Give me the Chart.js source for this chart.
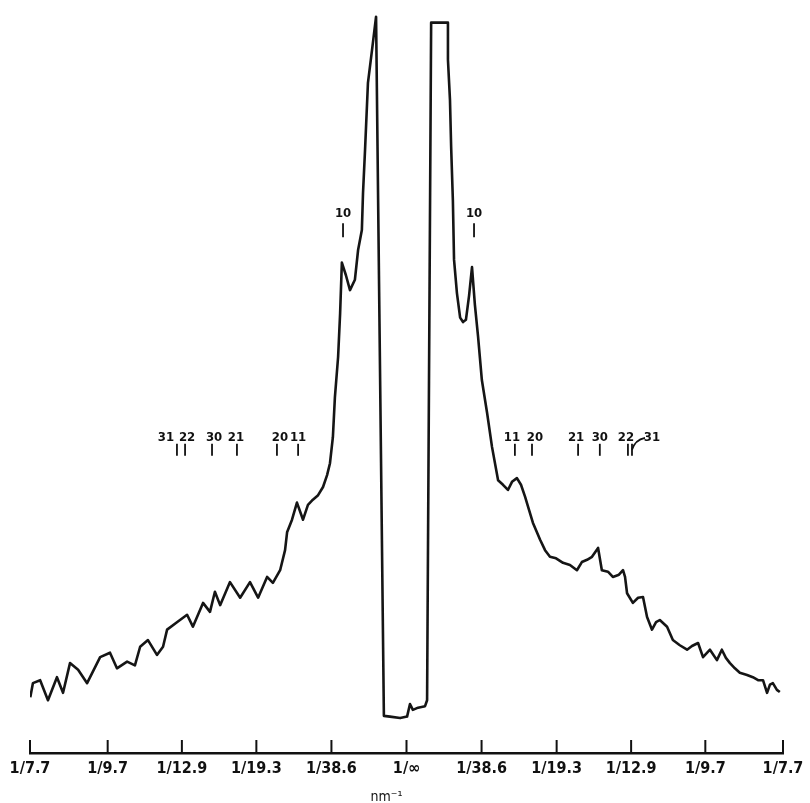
<!DOCTYPE html>
<html>
<head>
<meta charset="utf-8">
<script src="https://cdn.jsdelivr.net/npm/chart.js@4/dist/chart.umd.min.js"></script>
<style>
  html, body { margin: 0; padding: 0; background: #fff; }
  #wrap { width: 810px; height: 803px; position: relative; }
</style>
</head>
<body>
<div id="wrap"><canvas id="chart"></canvas></div>
<script>
// scattering vector q (nm^-1) and intensity (arbitrary units)
const leftQ = [-0.1298,-0.1289,-0.1264,-0.1237,-0.1206,-0.1185,-0.1161,-0.1133,-0.1102,-0.1057,
  -0.1023,-0.0999,-0.0964,-0.0937,-0.0919,-0.0892,-0.0861,-0.0840,-0.0826,-0.0792,
  -0.0757,-0.0737,-0.0702,-0.0678,-0.0661,-0.0643,-0.0609,-0.0574,-0.0540,-0.0512,
  -0.0481,-0.0461,-0.0436,-0.0419,-0.0412,-0.0395,-0.0378,-0.0357,-0.0340,-0.0323,
  -0.0305,-0.0288,-0.0274,-0.0264,-0.0254,-0.0247,-0.0236,-0.0229,-0.0223,-0.0209,
  -0.0195,-0.0178,-0.0167,-0.0154,-0.0150,-0.0143,-0.0133,-0.0119,-0.0105];
const leftI = [7.5,9.4,9.8,7.1,10.2,8.1,12.1,11.2,9.4,12.9,
  13.5,11.4,12.3,11.8,14.3,15.2,13.2,14.3,16.6,17.6,
  18.6,17.0,20.2,19.0,21.7,19.9,23.0,20.9,23.0,20.9,
  23.7,22.9,24.6,27.3,29.7,31.4,33.7,31.4,33.4,34.1,
  34.7,35.8,37.4,39.0,42.5,47.9,53.3,59.2,66.0,64.3,
  62.3,63.7,67.7,70.4,75.4,81.2,90.2,94.6,99.1];

// beam stop shadow in the middle
const stopQ = [-0.0078,-0.0057,-0.0022,0.0002,0.0012,0.0022,0.0040,0.0064,0.0071,0.0085,0.0143];
const stopI = [5.0,4.9,4.7,4.9,6.6,5.8,6.1,6.3,7.1,98.3,98.3];

const rightQ = [0.0143,0.0150,0.0154,0.0160,0.0164,0.0174,0.0185,0.0195,0.0205,0.0216,
  0.0226,0.0236,0.0247,0.0260,0.0278,0.0295,0.0316,0.0333,0.0350,0.0364,
  0.0381,0.0395,0.0409,0.0423,0.0436,0.0461,0.0478,0.0495,0.0516,0.0540,
  0.0564,0.0588,0.0605,0.0623,0.0640,0.0661,0.0674,0.0695,0.0712,0.0733,
  0.0747,0.0754,0.0761,0.0781,0.0799,0.0816,0.0830,0.0847,0.0861,0.0874,
  0.0899,0.0919,0.0943,0.0968,0.0985,0.1006,0.1023,0.1047,0.1071,0.1088,
  0.1102,0.1116,0.1133,0.1150,0.1175,0.1195,0.1213,0.1230,0.1244,0.1254,
  0.1264,0.1278,0.1288];
const rightI = [93.3,87.9,81.6,74.4,66.4,61.9,58.6,58.0,58.3,61.6,
  65.4,60.3,56.0,50.2,45.8,41.2,36.7,36.1,35.4,36.5,
  37.0,36.1,34.5,32.7,31.0,28.7,27.3,26.4,26.2,25.6,
  25.3,24.6,25.7,26.0,26.4,27.6,24.6,24.4,23.7,24.0,
  24.6,23.7,21.5,20.2,20.9,21.0,18.3,16.6,17.6,17.9,
  17.0,15.2,14.5,13.9,14.4,14.8,12.9,13.9,12.5,13.9,
  12.8,12.1,11.4,10.8,10.5,10.2,9.8,9.8,8.1,9.2,
  9.4,8.5,8.2];

// axis ticks
const tickValues = [-0.1299,-0.1031,-0.0775,-0.0518,-0.0259,0,0.0259,0.0518,0.0775,0.1031,0.1299];
const tickLabels = ['1/7.7','1/9.7','1/12.9','1/19.3','1/38.6','1/\u221e','1/38.6','1/19.3','1/12.9','1/9.7','1/7.7'];

// reflection markers
const peak10Q = [-0.0219, 0.0233];
const leftHk = ['31','22','30','21','20','11'];
const leftHkQ = [-0.0792,-0.0764,-0.0671,-0.0585,-0.0447,-0.0374];
const rightHk = ['11','20','21','30','22','31'];
const rightHkQ = [0.0374,0.0433,0.0592,0.0667,0.0764,0.0778];

const toPoints = (qs, is) => qs.map((q, i) => ({ x: q, y: is[i] }));
const trace = [].concat(toPoints(leftQ, leftI), toPoints(stopQ, stopI), toPoints(rightQ, rightI));

const FONT = '"DejaVu Sans Condensed", "DejaVu Sans", sans-serif';

// tick marks stand up from the axis line
const upTicks = {
  id: 'upTicks',
  afterDraw(chart) {
    const x = chart.scales.x;
    const yb = chart.chartArea.bottom;
    const ctx = chart.ctx;
    ctx.save();
    ctx.strokeStyle = '#111';
    ctx.lineWidth = 2;
    x.ticks.forEach(t => {
      const px = x.getPixelForValue(t.value);
      ctx.beginPath();
      ctx.moveTo(px, yb);
      ctx.lineTo(px, yb - 13);
      ctx.stroke();
    });
    ctx.font = '14px ' + FONT;
    ctx.fillStyle = '#111';
    ctx.textAlign = 'center';
    ctx.fillText('nm\u207b\u00b9', x.getPixelForValue(0) - 20, 801);
    ctx.restore();
  }
};

const markers = {
  id: 'markers',
  afterDatasetsDraw(chart) {
    const { ctx, scales: { x, y } } = chart;
    ctx.save();
    ctx.strokeStyle = '#111';
    ctx.fillStyle = '#111';
    ctx.lineWidth = 1.8;
    ctx.font = 'bold 13px ' + FONT;
    ctx.textAlign = 'center';
    ctx.textBaseline = 'alphabetic';

    const mark = (q, level, len, text, dx, gap) => {
      const px = x.getPixelForValue(q);
      const py = y.getPixelForValue(level);
      ctx.beginPath();
      ctx.moveTo(px, py);
      ctx.lineTo(px, py - len);
      ctx.stroke();
      ctx.fillText(text, px + dx, py - len - gap);
      return [px, py];
    };

    peak10Q.forEach(q => mark(q, 69.4, 14, '10', 0, 6));

    const leftDx = [-11, 2, 2, -1, 3, 0];
    leftHk.forEach((hk, i) => mark(leftHkQ[i], 40.0, 12, hk, leftDx[i], 3));

    const rightDx = [-3, 3, -2, 0, -2, 20];
    rightHk.forEach((hk, i) => {
      const [px, py] = mark(rightHkQ[i], 40.0, 12, hk, rightDx[i], 3);
      if (hk === '31') {
        ctx.beginPath();
        ctx.moveTo(px, py - 6);
        ctx.quadraticCurveTo(px + 3, py - 16, px + 13, py - 18);
        ctx.stroke();
      }
    });
    ctx.restore();
  }
};

const ctx = document.getElementById('chart').getContext('2d');

new Chart(ctx, {
  type: 'line',
  data: {
    datasets: [{
      data: trace,
      borderColor: '#151515',
      borderWidth: 2.6,
      borderJoinStyle: 'round',
      pointRadius: 0,
      tension: 0,
      fill: false,
    }]
  },
  options: {
    responsive: true,
    maintainAspectRatio: false,
    animation: false,
    layout: { padding: { left: 30, right: 27, top: 10, bottom: 0 } },
    plugins: {
      legend: { display: false },
      tooltip: { enabled: false },
    },
    scales: {
      x: {
        type: 'linear',
        min: -0.1299,
        max: 0.1299,
        afterBuildTicks: axis => { axis.ticks = tickValues.map(v => ({ value: v })); },
        afterFit: axis => { axis.height = 50; },
        grid: { display: true, drawOnChartArea: false, drawTicks: false },
        border: { display: true, color: '#111', width: 2.5 },
        ticks: {
          autoSkip: false,
          maxRotation: 0,
          padding: 6,
          color: '#111',
          font: { family: FONT, size: 16, weight: 'bold' },
          callback: (v, i) => tickLabels[i],
        },
      },
      y: {
        display: false,
        min: 0,
        max: 100,
      }
    }
  },
  plugins: [upTicks, markers]
});
</script>
</body>
</html>
